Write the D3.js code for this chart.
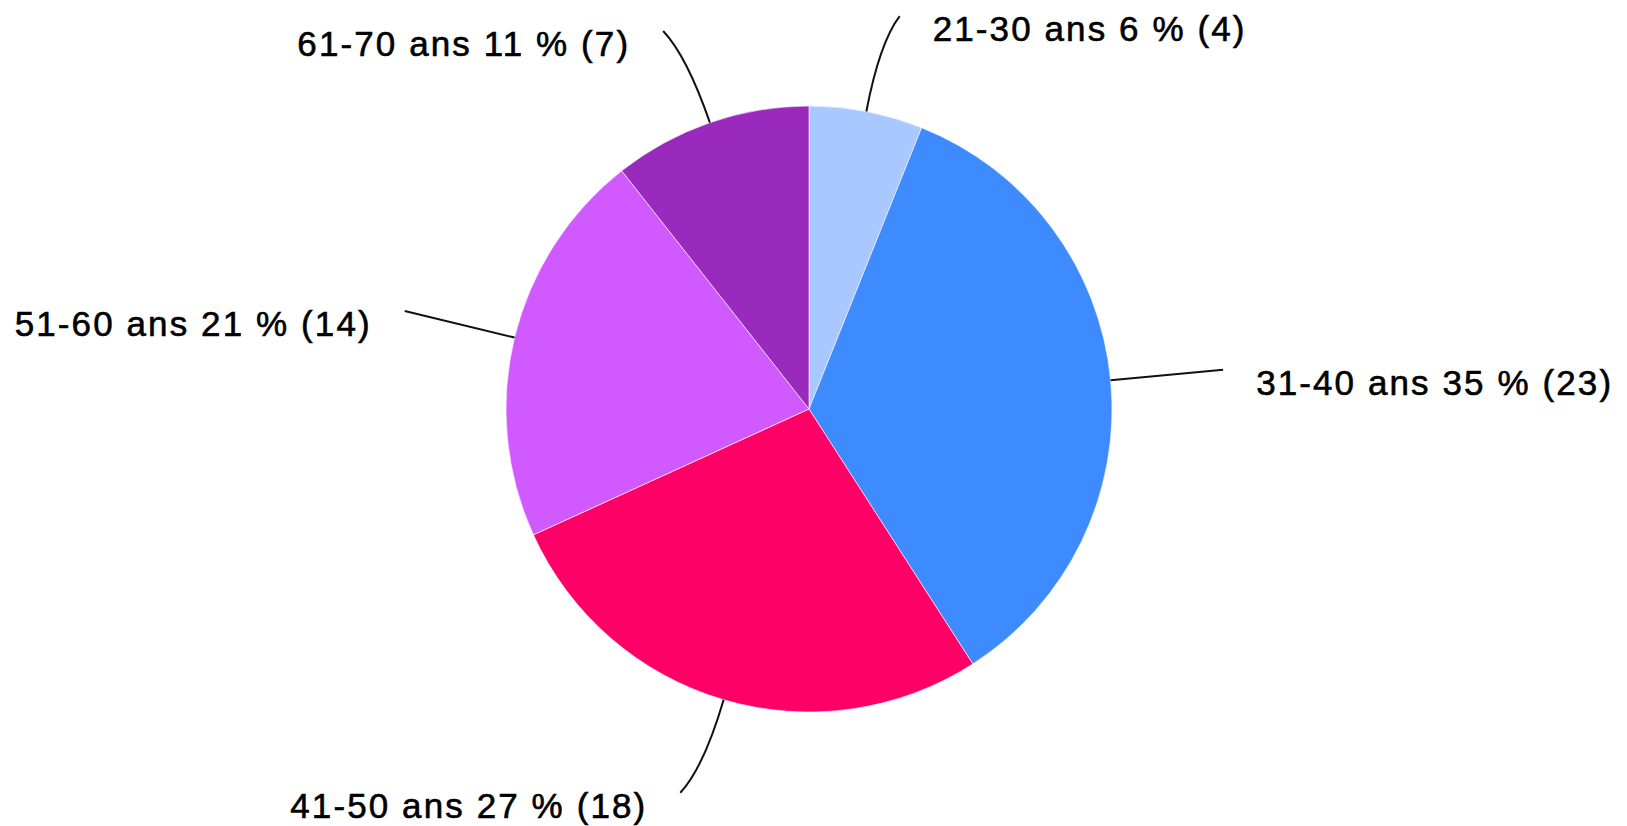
<!DOCTYPE html>
<html>
<head>
<meta charset="utf-8">
<script src="https://cdn.jsdelivr.net/npm/d3@7"></script>
<style>
  html, body { margin: 0; padding: 0; background: #fff; }
  svg { display: block; }
</style>
</head>
<body>
<svg id="chart" width="1627" height="826"></svg>
<script>
// ---- data ----
const categories = ["21-30 ans", "31-40 ans", "41-50 ans", "51-60 ans", "61-70 ans"];
const counts = [4, 23, 18, 14, 7];
const percents = [6, 35, 27, 21, 11];
const colors = ["#a8c8ff", "#3d8bff", "#ff0066", "#d05aff", "#9a2abe"];

// ---- layout ----
const cx = 809, cy = 409, R = 303;
// per-label connector layout: outer radius, horizontal shift
const connR = [400, 414, 400, 416, 400];
const connShift = [15, 2, -16, 0, -15];
const textGap = 33;

const svg = d3.select("#chart");
const g = svg.append("g").attr("transform", `translate(${cx},${cy})`);

const data = categories.map((c, i) => ({ cat: c, n: counts[i], pct: percents[i], color: colors[i], i }));
const pie = d3.pie().value(d => d.n).sort(null);
const arcs = pie(data);
const arc = d3.arc().innerRadius(0).outerRadius(R);

g.selectAll("path.slice")
  .data(arcs)
  .join("path")
  .attr("class", "slice")
  .attr("d", arc)
  .attr("fill", d => d.data.color)
  .attr("stroke", "#fff")
  .attr("stroke-width", 0.6);

function polar(r, a) { return [r * Math.sin(a), -r * Math.cos(a)]; }

arcs.forEach(d => {
  const i = d.data.i;
  const a = (d.startAngle + d.endAngle) / 2;
  const p0 = polar(R, a);
  const pc = polar((R + connR[i]) / 2 + 22, a);
  const pr = polar(connR[i], a);
  const p2 = [pr[0] + connShift[i], pr[1]];
  const path = d3.path();
  path.moveTo(p0[0], p0[1]);
  path.quadraticCurveTo(pc[0], pc[1], p2[0], p2[1]);
  g.append("path")
    .attr("d", path.toString())
    .attr("fill", "none")
    .attr("stroke", "#111")
    .attr("stroke-width", 2);

  const right = Math.sin(a) > 0;
  g.append("text")
    .attr("x", p2[0] + (right ? textGap : -textGap))
    .attr("y", p2[1] + 25)
    .attr("text-anchor", right ? "start" : "end")
    .attr("font-family", "'Liberation Sans', Arial, sans-serif")
    .attr("font-size", 35)
    .attr("letter-spacing", 2.1)
    .attr("fill", "#000")
    .attr("stroke", "#000")
    .attr("stroke-width", 0.6)
    .text(`${d.data.cat} ${d.data.pct} % (${d.data.n})`);
});
</script>
</body>
</html>
